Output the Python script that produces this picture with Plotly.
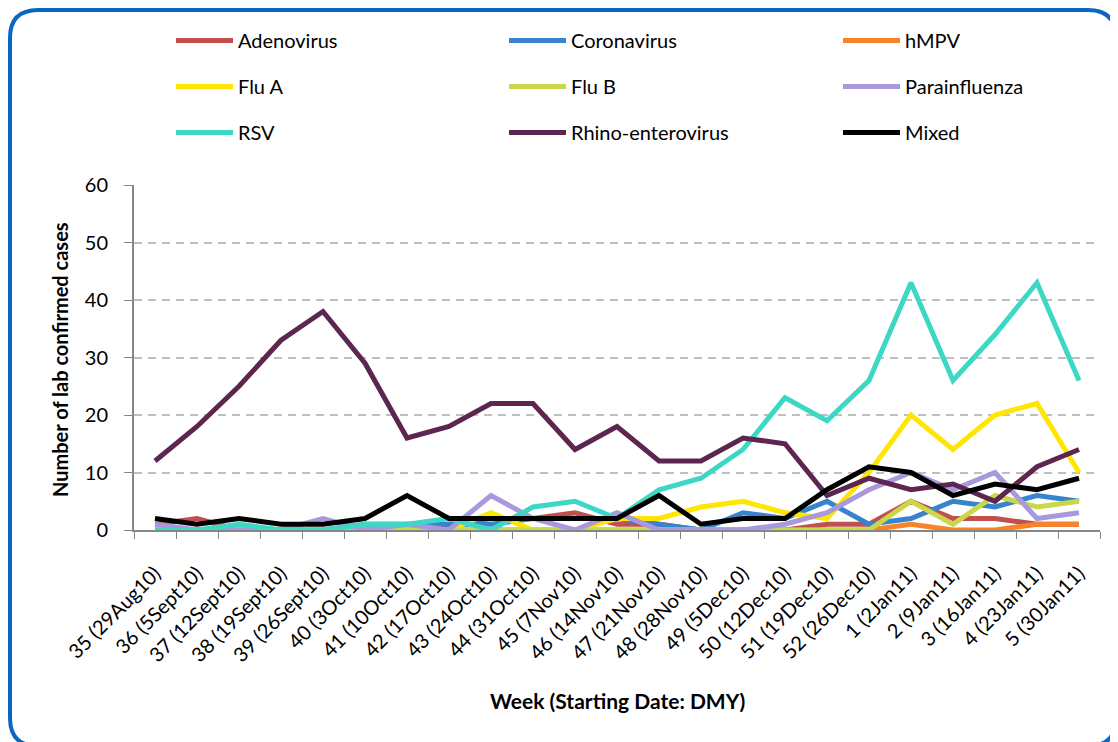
import plotly.graph_objects as go

weeks = ["35 (29Aug10)", "36 (5Sept10)", "37 (12Sept10)", "38 (19Sept10)", "39 (26Sept10)",
         "40 (3Oct10)", "41 (10Oct10)", "42 (17Oct10)", "43 (24Oct10)", "44 (31Oct10)",
         "45 (7Nov10)", "46 (14Nov10)", "47 (21Nov10)", "48 (28Nov10)", "49 (5Dec10)",
         "50 (12Dec10)", "51 (19Dec10)", "52 (26Dec10)", "1 (2Jan11)", "2 (9Jan11)",
         "3 (16Jan11)", "4 (23Jan11)", "5 (30Jan11)"]

adenovirus = [1, 2, 0, 0, 0, 0, 0, 1, 2, 2, 3, 1, 1, 0, 0, 0, 1, 1, 5, 2, 2, 1, 1]
coronavirus = [0, 0, 0, 0, 0, 1, 1, 1, 1, 2, 2, 2, 1, 0, 3, 2, 5, 1, 2, 5, 4, 6, 5]
hmpv = [0, 0, 0, 0, 0, 0, 0, 0, 0, 0, 0, 0, 0, 0, 0, 0, 0, 0, 1, 0, 0, 1, 1]
flu_a = [0, 0, 0, 0, 0, 0, 0, 0, 3, 0, 0, 2, 2, 4, 5, 3, 2, 10, 20, 14, 20, 22, 10]
flu_b = [0, 0, 0, 0, 0, 0, 0, 0, 0, 0, 0, 0, 0, 0, 0, 0, 0, 0, 5, 1, 6, 4, 5]
parainfluenza = [1, 0, 0, 0, 2, 0, 1, 0, 6, 2, 0, 3, 0, 0, 0, 1, 3, 7, 10, 7, 10, 2, 3]
rsv = [0, 0, 1, 0, 0, 1, 1, 2, 0, 4, 5, 2, 7, 9, 14, 23, 19, 26, 43, 26, 34, 43, 26]
rhino = [12, 18, 25, 33, 38, 29, 16, 18, 22, 22, 14, 18, 12, 12, 16, 15, 6, 9, 7, 8, 5, 11, 14]
mixed = [2, 1, 2, 1, 1, 2, 6, 2, 2, 2, 2, 2, 6, 1, 2, 2, 7, 11, 10, 6, 8, 7, 9]

series = [
    ("Adenovirus", adenovirus, "#C0504D", "legend"),
    ("Coronavirus", coronavirus, "#3784CC", "legend2"),
    ("hMPV", hmpv, "#F7832A", "legend3"),
    ("Flu A", flu_a, "#FFE600", "legend"),
    ("Flu B", flu_b, "#CAD74B", "legend2"),
    ("Parainfluenza", parainfluenza, "#A998DC", "legend3"),
    ("RSV", rsv, "#3CD7C5", "legend"),
    ("Rhino-enterovirus", rhino, "#5C2650", "legend2"),
    ("Mixed", mixed, "#000000", "legend3"),
]

# page has an 8px body margin, so the figure is 8px smaller than the window
W, H = 1110, 734
L, R, T, B = 126, 1092, 177, 522
FONT = "Lato, 'Open Sans', sans-serif"


def px(x):
    return (x - L) / (R - L)


def py(y):
    return (B - y) / (B - T)


fig = go.Figure()
for name, vals, color, leg in series:
    fig.add_trace(go.Scatter(x=weeks, y=vals, mode="lines", name=name, legend=leg,
                             legendgroup=name, line=dict(color=color, width=5)))

legend_style = dict(xref="container", yref="container", xanchor="left", yanchor="top",
                    bgcolor="rgba(0,0,0,0)", tracegroupgap=17, itemwidth=57,
                    font=dict(family=FONT, size=20, color="#000000"))
fig.update_layout(
    legend=dict(x=163 / W, y=1 - 13 / H, **legend_style),
    legend2=dict(x=496 / W, y=1 - 13 / H, **legend_style),
    legend3=dict(x=830 / W, y=1 - 13 / H, **legend_style),
)

# rounded blue frame around the whole chart
x0, y0, x1, y1, r = 2, 2, 1108, 738, 28
path = (f"M {px(x0)},{py(y1 - r)} L {px(x0)},{py(y0 + r)} "
        f"Q {px(x0)},{py(y0)} {px(x0 + r)},{py(y0)} L {px(x1 - r)},{py(y0)} "
        f"Q {px(x1)},{py(y0)} {px(x1)},{py(y0 + r)} L {px(x1)},{py(y1 - r)} "
        f"Q {px(x1)},{py(y1)} {px(x1 - r)},{py(y1)} L {px(x0 + r)},{py(y1)} "
        f"Q {px(x0)},{py(y1)} {px(x0)},{py(y1 - r)} Z")
fig.add_shape(type="path", xref="paper", yref="paper", path=path,
              line=dict(color="#0A66C2", width=4))

fig.add_annotation(text="<b>Number of lab confirmed cases</b>", xref="paper", yref="paper",
                   x=px(52), y=py(352), textangle=-90, showarrow=False,
                   xanchor="center", yanchor="middle",
                   font=dict(family=FONT, size=20, color="#000000"))
fig.add_annotation(text="<b>Week (Starting Date: DMY)</b>", xref="paper", yref="paper",
                   x=px(609), y=py(692), showarrow=False,
                   xanchor="center", yanchor="middle",
                   font=dict(family=FONT, size=21, color="#000000"))

fig.update_xaxes(type="category", range=[-0.5, len(weeks) - 0.5], tickson="boundaries",
                 ticks="outside", ticklen=7, tickcolor="#868686", showline=True,
                 linecolor="#868686", linewidth=2, showgrid=False, tickangle=-45,
                 ticklabelstandoff=22, automargin=False,
                 tickfont=dict(family=FONT, size=20, color="#000000"))
fig.update_yaxes(range=[0, 60], dtick=10, ticks="outside", ticklen=8, tickcolor="#868686",
                 showline=True, linecolor="#868686", linewidth=2, zeroline=False,
                 showgrid=True, gridcolor="#BFBFBF", griddash="8px,6px", gridwidth=1.5,
                 ticklabelstandoff=12, automargin=False,
                 tickfont=dict(family=FONT, size=20, color="#000000"))

fig.update_layout(
    width=W, height=H,
    margin=dict(l=L, r=W - R, t=T, b=H - B, autoexpand=False),
    plot_bgcolor="white", paper_bgcolor="white",
    font=dict(family=FONT),
)

fig.write_html("out.html")
